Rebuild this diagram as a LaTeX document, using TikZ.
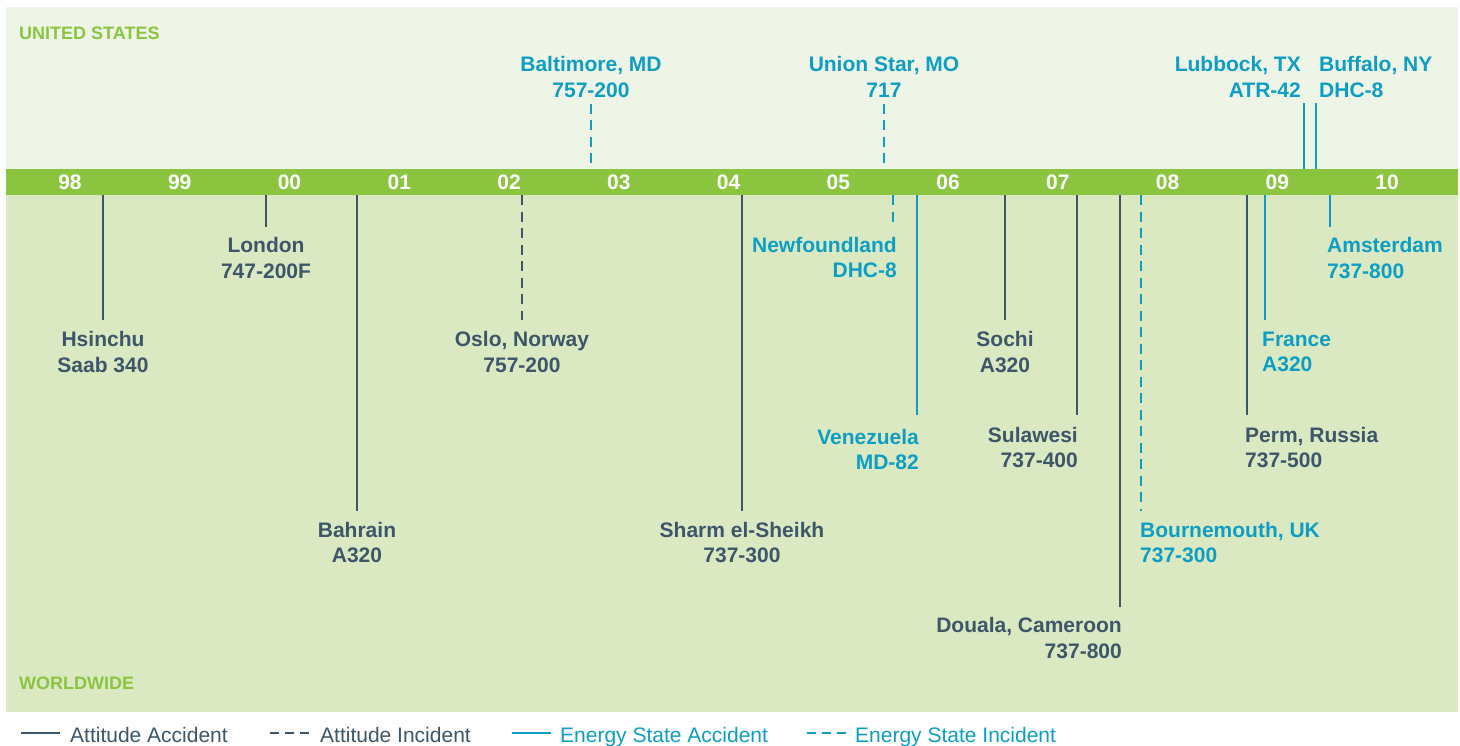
\documentclass[tikz,border=0pt]{standalone}
\usepackage{fontspec}
\setmainfont{Liberation Sans}
\usepackage{tikz}
\usetikzlibrary{positioning}
\definecolor{usbg}{RGB}{239,245,230}
\definecolor{wwbg}{RGB}{218,233,194}
\definecolor{bargreen}{RGB}{139,197,63}
\definecolor{slate}{RGB}{61,86,106}
\definecolor{sky}{RGB}{14,158,196}
\tikzset{
    attacc/.style={slate, line width=2.5pt},
    attinc/.style={slate, line width=2.5pt, dash pattern=on 10pt off 6.5pt},
    enacc/.style={sky, line width=2.5pt},
    eninc/.style={sky, line width=2.5pt, dash pattern=on 10pt off 6.5pt},
    place/.style={font=\bfseries\fontsize{21}{25.5}\selectfont, inner sep=0pt},
    yearlbl/.style={text=white, font=\bfseries\fontsize{21}{25}\selectfont, inner sep=0pt},
    region/.style={text=bargreen, font=\bfseries\fontsize{18}{20}\selectfont, inner sep=0pt, anchor=west},
    keylbl/.style={font=\fontsize{21}{24}\selectfont, inner sep=0pt, anchor=base west}
}

\begin{document}
\begin{tikzpicture}[x=1pt, y=-1pt]
    \fill[white](0, 0)rectangle(1460, 746);
    \useasboundingbox(0, 0)rectangle(1460, 746);
    \fill[usbg](6, 7)rectangle(1458, 169);
    \fill[wwbg](6, 195)rectangle(1458, 712);
    \node[fill=bargreen, minimum width=1452pt, minimum height=26pt, inner sep=0pt, anchor=north west] (bar) at (6, 169) {};
    \foreach \yr [count=\i from 0] in {98, 99, 00, 01, 02, 03, 04, 05, 06, 07, 08, 09, 10}
        \node[yearlbl] (y\yr) at (70+109.75*\i, 182) {\yr};
    \node[region] (us) at (19, 33) {UNITED STATES};
    \node[region] (ww) at (19, 683) {WORLDWIDE};

    % line ends
    \coordinate (hs) at (103, 320);
    \coordinate (lo) at (266, 227);
    \coordinate (ba) at (357, 511);
    \coordinate (os) at (522, 320);
    \coordinate (bm) at (591, 104);
    \coordinate (sh) at (742, 511);
    \coordinate (um) at (884, 104);
    \coordinate (nf) at (893, 225);
    \coordinate (ve) at (917, 415);
    \coordinate (so) at (1005, 320);
    \coordinate (su) at (1077, 415);
    \coordinate (do) at (1120, 607);
    \coordinate (bo) at (1141, 511);
    \coordinate (pe) at (1247, 415);
    \coordinate (fr) at (1265, 320);
    \coordinate (lu) at (1304, 103);
    \coordinate (bu) at (1316, 103);
    \coordinate (am) at (1330, 227);

    % labels
    \node[place, text=slate, align=center, below=11.5pt of hs] (hsinchu) {Hsinchu\\Saab 340};
    \node[place, text=slate, align=center, below=10.5pt of lo] (london) {London\\747-200F};
    \node[place, text=slate, align=center, below=11pt of ba] (bahrain) {Bahrain\\A320};
    \node[place, text=slate, align=center, below=11.5pt of os] (oslo) {Oslo, Norway\\757-200};
    \node[place, text=sky, align=center, above=6.5pt of bm] (baltimore) {Baltimore, MD\\757-200};
    \node[place, text=slate, align=center, below=11pt of sh] (sharm) {Sharm el-Sheikh\\737-300};
    \node[place, text=sky, align=center, above=6.5pt of um] (unionstar) {Union Star, MO\\717};
    \node[place, text=sky, align=right, below left=12pt and -4pt of nf] (newfoundland) {Newfoundland\\DHC-8};
    \node[place, text=sky, align=right, below left=14pt and -2pt of ve] (venezuela) {Venezuela\\MD-82};
    \node[place, text=slate, align=center, below=11.5pt of so] (sochi) {Sochi\\A320};
    \node[place, text=slate, align=right, below left=12pt and -1pt of su] (sulawesi) {Sulawesi\\737-400};
    \node[place, text=slate, align=right, below left=10.5pt and -2pt of do] (douala) {Douala, Cameroon\\737-800};
    \node[place, text=sky, align=left, below right=11pt and -1pt of bo] (bournemouth) {Bournemouth, UK\\737-300};
    \node[place, text=slate, align=left, below right=12pt and -2pt of pe] (perm) {Perm, Russia\\737-500};
    \node[place, text=sky, align=left, below right=11.5pt and -3pt of fr] (france) {France\\A320};
    \node[place, text=sky, align=right, above left=5.5pt and 3pt of lu] (lubbock) {Lubbock, TX\\ATR-42};
    \node[place, text=sky, align=left, above right=5.5pt and 3pt of bu] (buffalo) {Buffalo, NY\\DHC-8};
    \node[place, text=sky, align=left, below right=10.5pt and -3pt of am] (amsterdam) {Amsterdam\\737-800};

    % stems
    \draw[attacc](bar.south -| hs)--(hs);
    \draw[attacc](bar.south -| lo)--(lo);
    \draw[attacc](bar.south -| ba)--(ba);
    \draw[attinc](bar.south -| os)--(os);
    \draw[eninc](bm)--(bar.north -| bm);
    \draw[attacc](bar.south -| sh)--(sh);
    \draw[eninc](um)--(bar.north -| um);
    \draw[eninc](bar.south -| nf)--(nf);
    \draw[enacc](bar.south -| ve)--(ve);
    \draw[attacc](bar.south -| so)--(so);
    \draw[attacc](bar.south -| su)--(su);
    \draw[attacc](bar.south -| do)--(do);
    \draw[eninc](bar.south -| bo)--(bo);
    \draw[attacc](bar.south -| pe)--(pe);
    \draw[enacc](bar.south -| fr)--(fr);
    \draw[enacc](lu)--(bar.north -| lu);
    \draw[enacc](bu)--(bar.north -| bu);
    \draw[enacc](bar.south -| am)--(am);

    % key
    \draw[attacc](21, 733)--(60, 733);
    \node[keylbl, text=slate] (k1) at (70, 742) {Attitude Accident};
    \draw[attacc, dash pattern=on 9pt off 6pt](270, 733)--(310, 733);
    \node[keylbl, text=slate] (k2) at (320, 742) {Attitude Incident};
    \draw[enacc](512, 733)--(551, 733);
    \node[keylbl, text=sky] (k3) at (560, 742) {Energy State Accident};
    \draw[enacc, dash pattern=on 9pt off 6pt](807, 733)--(847, 733);
    \node[keylbl, text=sky] (k4) at (855, 742) {Energy State Incident};
\end{tikzpicture}
\end{document}
